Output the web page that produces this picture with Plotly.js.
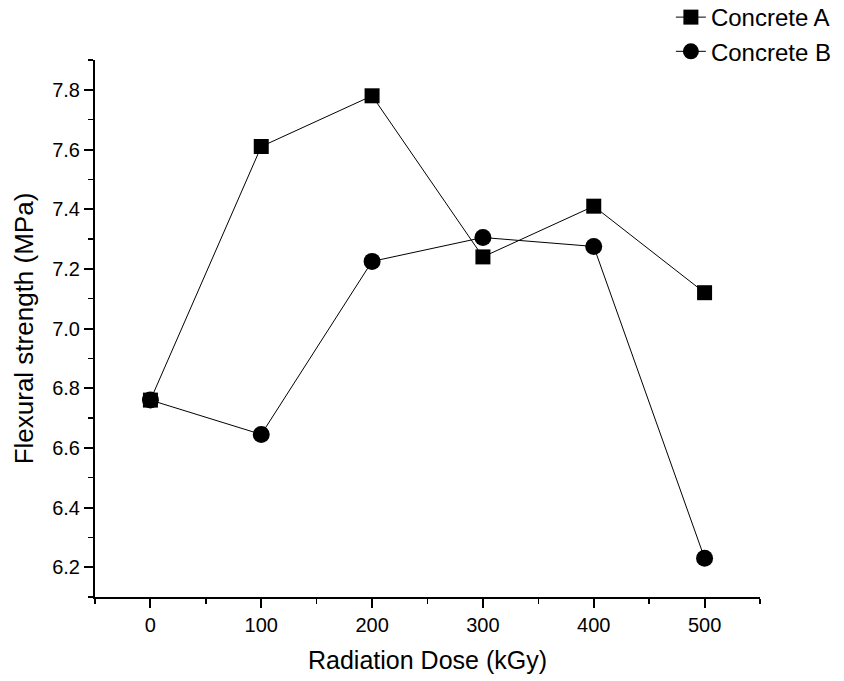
<!DOCTYPE html>
<html><head><meta charset="utf-8">
<script src="https://cdn.plot.ly/plotly-3.0.1.min.js"></script>
<style>html,body{margin:0;padding:0;background:#fff}#chart{width:844px;height:681px}</style>
</head><body><div id="chart"></div>
<script>
const doses = [0, 100, 200, 300, 400, 500];
const concreteA = [6.76, 7.61, 7.78, 7.24, 7.41, 7.12];
const concreteB = [6.76, 6.645, 7.225, 7.305, 7.275, 6.23];
const seriesNames = ['Concrete A', 'Concrete B'];
const yTicks = [6.2, 6.4, 6.6, 6.8, 7.0, 7.2, 7.4, 7.6, 7.8];
const yTickText = ['6.2', '6.4', '6.6', '6.8', '7.0', '7.2', '7.4', '7.6', '7.8'];

const font = {family: 'Liberation Sans, Arial, sans-serif', color: '#000'};
const f = s => Object.assign({size: s}, font);
const traces = [
  {x: doses, y: concreteA, name: seriesNames[0], mode: 'lines+markers', type: 'scatter',
   line: {color: '#000', width: 1}, marker: {symbol: 'square', size: 15, color: '#000'}},
  {x: doses, y: concreteB, name: seriesNames[1], mode: 'lines+markers', type: 'scatter',
   line: {color: '#000', width: 1}, marker: {symbol: 'circle', size: 17, color: '#000'}}
];
const layout = {
  width: 844, height: 681,
  margin: {l: 95, r: 84, t: 60, b: 84, autoexpand: false},
  paper_bgcolor: '#fff', plot_bgcolor: '#fff',
  font: f(20),
  showlegend: true,
  legend: {xref: 'paper', yref: 'paper', x: 0.866, y: 1.121, xanchor: 'left', yanchor: 'top',
           font: f(24), bgcolor: 'rgba(0,0,0,0)', tracegroupgap: 0},
  xaxis: {
    range: [-50, 550], tickvals: doses, ticktext: doses.map(String),
    showgrid: false, zeroline: false, showline: true, linecolor: '#000', linewidth: 2,
    ticks: 'outside', ticklen: 9, tickwidth: 2, tickcolor: '#000',
    tickfont: f(20),
    minor: {dtick: 50, tick0: 0, ticks: 'outside', ticklen: 5, tickwidth: 1.5, tickcolor: '#000', showgrid: false},
    title: {text: 'Radiation Dose (kGy)', font: f(25), standoff: 16}
  },
  yaxis: {
    range: [6.1, 7.9], tickvals: yTicks, ticktext: yTickText,
    showgrid: false, zeroline: false, showline: true, linecolor: '#000', linewidth: 2,
    ticks: 'outside', ticklen: 9, tickwidth: 2, tickcolor: '#000',
    tickfont: f(20),
    minor: {dtick: 0.1, tick0: 6.1, ticks: 'outside', ticklen: 5, tickwidth: 1.5, tickcolor: '#000', showgrid: false},
    title: {text: 'Flexural strength (MPa)', font: f(26), standoff: 11}
  }
};
Plotly.newPlot('chart', traces, layout, {displayModeBar: false, staticPlot: true});
</script></body></html>
